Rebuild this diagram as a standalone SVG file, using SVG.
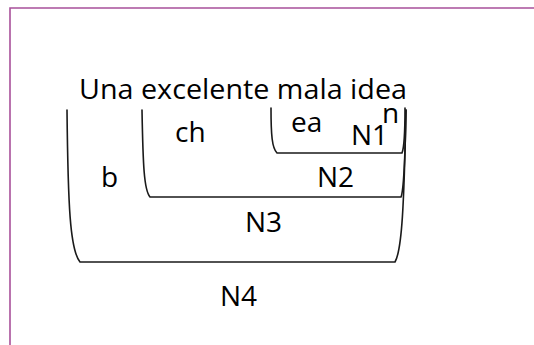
<svg xmlns="http://www.w3.org/2000/svg" width="534" height="345" viewBox="0 0 534 345">
  <style>
    .frame { fill: none; stroke: #a8509a; stroke-width: 1.6; }
    .brk { fill: none; stroke: #1a1a1a; stroke-width: 1.6; stroke-linecap: round; }
    .t { font-family: "Open Sans", "Noto Sans", sans-serif; font-size: 28px; fill: #000; }
  </style>
  <rect width="534" height="345" fill="#fff"/>
  <!-- page border (top and left edges) -->
  <path class="frame" d="M10,345 L10,8 L534,8"/>

  <!-- sentence -->
  <g id="sentence">
    <text class="t" x="79" y="99" textLength="328" lengthAdjust="spacingAndGlyphs">Una excelente mala idea</text>
  </g>

  <!-- bracket groups, innermost to outermost -->
  <g id="connectors">
    <path id="brk-N1" class="brk" d="M271,108 C271,135 272,148 277,153 L402,153 C404,148 405,135 405,108"/>
    <path id="brk-N2" class="brk" d="M142,110 C143,165 144,190 150,197 L401,197 C404,190 405,165 406,110"/>
    <path id="brk-N4" class="brk" d="M67,110 C68,205 70,250 80,262 L395,262 C402,250 404,205 406,110"/>
  </g>

  <g id="node-ea"><text class="t" x="291" y="132">ea</text></g>
  <g id="node-n"><text class="t" x="382" y="123">n</text></g>
  <g id="node-N1"><text class="t" x="351" y="145">N1</text></g>
  <g id="node-ch"><text class="t" x="175" y="142">ch</text></g>
  <g id="node-b"><text class="t" x="101" y="187">b</text></g>
  <g id="node-N2"><text class="t" x="317" y="187">N2</text></g>
  <g id="node-N3"><text class="t" x="245" y="232">N3</text></g>
  <g id="node-N4"><text class="t" x="220" y="306">N4</text></g>
</svg>
